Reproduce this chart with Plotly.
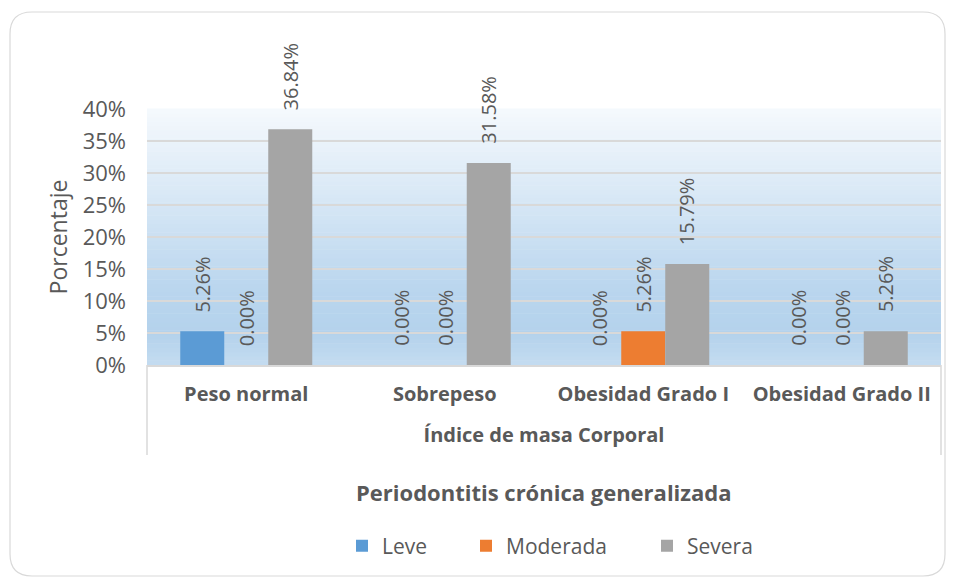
import plotly.graph_objects as go

categories = ["Peso normal", "Sobrepeso", "Obesidad Grado I", "Obesidad Grado II"]
series_names = ["Leve", "Moderada", "Severa"]
leve = [5.26, 0.00, 0.00, 0.00]
moderada = [0.00, 0.00, 5.26, 0.00]
severa = [36.84, 31.58, 15.79, 5.26]
series_values = [leve, moderada, severa]
colors = ["#5b9bd5", "#ed7d31", "#a5a5a5"]

FONT = "Open Sans"
GREY = "#595959"

# figure geometry (pixels)
W, H = 955, 579
ML, MR, MT, MB = 147, 14, 109, 214
PW, PH = W - ML - MR, H - MT - MB
BARGAP = 0.335


def px_x(px):
    return (px - ML) / PW


def px_y(py):
    return (H - MB - py) / PH


fig = go.Figure()

for name, vals, col in zip(series_names, series_values, colors):
    fig.add_trace(go.Bar(
        x=categories, y=vals, name=name,
        marker=dict(color=col, line=dict(width=0)),
        legend={"Leve": "legend", "Moderada": "legend2", "Severa": "legend3"}[name],
    ))

# data labels, rotated, above each bar
bw = (1 - BARGAP) / len(series_names)
annotations = []
for j, vals in enumerate(series_values):
    for i, v in enumerate(vals):
        annotations.append(dict(
            x=i + (j - 1) * bw, y=v, xref="x", yref="y",
            text=f"{v:.2f}%", showarrow=False, textangle=-90,
            xanchor="center", yanchor="bottom", yshift=17,
            font=dict(family=FONT, size=20, color=GREY)))

# legend title
annotations.append(dict(
    x=0.5, y=px_y(492), xref="paper", yref="paper", showarrow=False,
    text="<b>Periodontitis crónica generalizada</b>",
    font=dict(family=FONT, size=22, color=GREY), xanchor="center", yanchor="middle"))

shapes = []
# gradient plot background
stops = [(0.0, (196, 220, 240)), (0.12, (180, 210, 236)), (0.3, (186, 214, 238)), (1.0, (245, 249, 253))]
n = 60


def lerp_col(t):
    for (t0, c0), (t1, c1) in zip(stops[:-1], stops[1:]):
        if t0 <= t <= t1:
            f = (t - t0) / (t1 - t0)
            return "rgb(%d,%d,%d)" % tuple(round(a + (b - a) * f) for a, b in zip(c0, c1))
    return "rgb(%d,%d,%d)" % stops[-1][1]


for k in range(n):
    shapes.append(dict(type="rect", xref="x domain", yref="y domain",
                       x0=0, x1=1, y0=k / n, y1=(k + 1) / n + 0.002,
                       fillcolor=lerp_col((k + 0.5) / n), line=dict(width=0), layer="below"))

# category axis side lines
for xd in (0, 1):
    shapes.append(dict(type="line", xref="x domain", yref="y domain",
                       x0=xd, x1=xd, y0=0, y1=px_y(455),
                       line=dict(color="#d9d9d9", width=1.5)))

# rounded chart border
x0, x1, y0, y1, r = 10, 945, 12, 576, 22
pts = [
    ("M", (x0 + r, y0)), ("L", (x1 - r, y0)), ("Q", (x1, y0), (x1, y0 + r)),
    ("L", (x1, y1 - r)), ("Q", (x1, y1), (x1 - r, y1)), ("L", (x0 + r, y1)),
    ("Q", (x0, y1), (x0, y1 - r)), ("L", (x0, y0 + r)), ("Q", (x0, y0), (x0 + r, y0)),
]
path = ""
for p in pts:
    path += p[0] + " ".join("%.5f,%.5f" % (px_x(a), px_y(b)) for a, b in p[1:]) + " "
shapes.append(dict(type="path", xref="paper", yref="paper", path=path + "Z",
                   line=dict(color="#d9d9d9", width=1.2)))

legend_style = dict(orientation="h", xanchor="left", yanchor="middle",
                    font=dict(family=FONT, size=21, color=GREY), bgcolor="rgba(0,0,0,0)")

fig.update_layout(
    width=W, height=H,
    margin=dict(l=ML, r=MR, t=MT, b=MB),
    paper_bgcolor="white", plot_bgcolor="rgba(0,0,0,0)",
    barmode="group", bargap=BARGAP, bargroupgap=0,
    font=dict(family=FONT, color=GREY),
    showlegend=True,
    legend=dict(x=px_x(342), y=px_y(546), **legend_style),
    legend2=dict(x=px_x(466), y=px_y(546), **legend_style),
    legend3=dict(x=px_x(647), y=px_y(546), **legend_style),
    xaxis=dict(
        tickfont=dict(family=FONT, size=20, color=GREY),
        tickprefix="<b>", ticksuffix="</b>",
        ticklabelstandoff=10, showline=True, linecolor="#d9d9d9", linewidth=1.5,
        title=dict(text="<b>Índice de masa Corporal</b>", standoff=22,
                   font=dict(family=FONT, size=20, color=GREY)),
    ),
    yaxis=dict(
        range=[0, 40], dtick=5, ticksuffix="%",
        tickfont=dict(family=FONT, size=22, color=GREY),
        showgrid=True, gridcolor="#d9d9d9", gridwidth=1.5,
        zeroline=False, ticklabelstandoff=20,
        title=dict(text="Porcentaje", standoff=8,
                   font=dict(family=FONT, size=23, color=GREY)),
    ),
    annotations=annotations,
    shapes=shapes,
)

fig.write_html("out.html", config={"displayModeBar": False},
               post_script="document.body.style.margin='0';")
